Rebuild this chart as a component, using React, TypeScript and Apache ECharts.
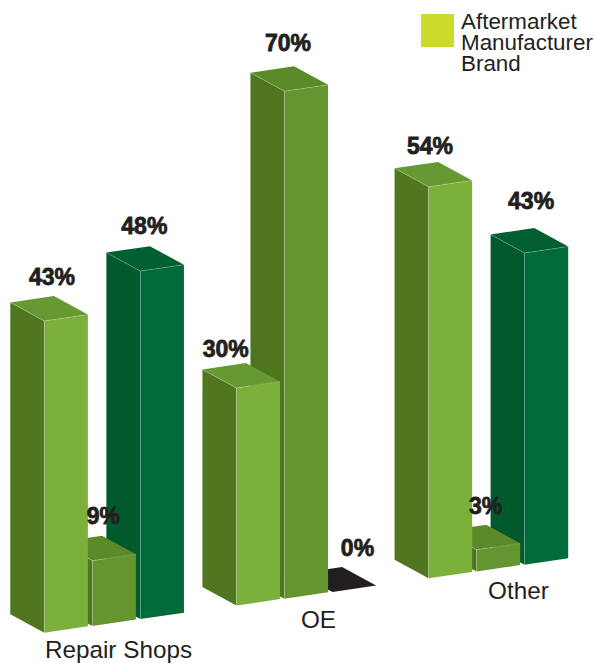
import React, { useEffect, useRef } from "react";
import * as echarts from "echarts";

const categories = ["Repair Shops", "OE", "Other"];
const legendLines = ["Aftermarket", "Manufacturer", "Brand"];
const aftermarket = [43, 30, 54];
const manufacturer = [9, 70, 3];
const brand = [48, 0, 43];

const WIDTH = 594;
const HEIGHT = 664;
const FONT = '"Liberation Sans", Arial, sans-serif';
const INK = "#231f20";

// Layout of the oblique projection
const SLOTS_PER_GROUP = 4;
const SLOT_RISE = 6.8;
const LEFT_DEPTH = [-34, -18.5];
const FRONT_SKEW = -6.4;
const FRONT_WIDTH = 43.6;

// Layout: label offsets from each bar's front top corner, by group
const labelNudge: Record<string, number[][]> = {
  Aftermarket: [[7.7, -44], [-10.7, -39], [1.5, -41]],
  Manufacturer: [[11, -45], [3.5, -48.5], [9, -44]],
  Brand: [[4, -45], [25, -44], [6.5, -52]],
};

const palette: Record<string, { front: string; top: string; left: string }> = {
  Aftermarket: { front: "#7bb03a", top: "#669932", left: "#50761f" },
  Manufacturer: { front: "#65952e", top: "#5b8b28", left: "#4e761f" },
  Brand: { front: "#006b3a", top: "#015f31", left: "#015a2d" },
};

function makeSeries(name: string, seriesIndex: number, values: number[]) {
  return {
    type: "custom",
    name,
    silent: true,
    clip: false,
    data: values.map((v, g) => [g * SLOTS_PER_GROUP + seriesIndex, v, g]),
    encode: { x: 0, y: 1 },
    renderItem: (_p: any, api: any) => {
      const slot = api.value(0);
      const value = api.value(1);
      const group = api.value(2);
      const base = api.coord([slot, 0]);
      const head = api.coord([slot, value]);
      const rise = SLOT_RISE * slot;
      const fb = [base[0], base[1] - rise];
      const ft = [head[0], head[1] - rise];
      const rb = [fb[0] + FRONT_WIDTH, fb[1] + FRONT_SKEW];
      const rt = [ft[0] + FRONT_WIDTH, ft[1] + FRONT_SKEW];
      const lb = [fb[0] + LEFT_DEPTH[0], fb[1] + LEFT_DEPTH[1]];
      const lt = [ft[0] + LEFT_DEPTH[0], ft[1] + LEFT_DEPTH[1]];
      const bk = [lt[0] + FRONT_WIDTH, lt[1] + FRONT_SKEW];
      const c = palette[name];
      const nudge = labelNudge[name][group];
      const children: any[] = [];
      if (value > 0) {
        children.push(
          { type: "polygon", shape: { points: [lt, ft, fb, lb] }, style: { fill: c.left } },
          { type: "polygon", shape: { points: [ft, rt, rb, fb] }, style: { fill: c.front } },
          { type: "polygon", shape: { points: [lt, bk, rt, ft] }, style: { fill: c.top } },
          {
            type: "polyline",
            shape: { points: [lt, ft, rt] },
            style: { fill: "none", stroke: "rgba(255,255,255,0.3)", lineWidth: 0.7 },
          },
          {
            type: "polyline",
            shape: { points: [ft, fb] },
            style: { fill: "none", stroke: "rgba(255,255,255,0.3)", lineWidth: 0.7 },
          },
        );
      } else {
        children.push({
          type: "polygon",
          shape: { points: [lt, bk, rt, ft] },
          style: { fill: INK },
        });
      }
      children.push({
        type: "text",
        z2: 100,
        style: {
          text: `${value}%`,
          x: ft[0] + nudge[0],
          y: ft[1] + nudge[1],
          align: "center",
          verticalAlign: "middle",
          fontFamily: FONT,
          fontSize: 23,
          fontWeight: "bold",
          fill: INK,
          stroke: INK,
          lineWidth: 0.8,
        },
      });
      return { type: "group", children };
    },
  };
}

export default function App() {
  const ref = useRef<HTMLDivElement>(null);
  useEffect(() => {
    const chart = echarts.init(ref.current!, undefined, { renderer: "svg" });
    chart.setOption({
      animation: false,
      backgroundColor: "#ffffff",
      grid: { left: 44.3, width: 480.3, top: 52.7, height: 580 },
      xAxis: { type: "value", min: 0, max: 10, show: false },
      yAxis: { type: "value", min: 0, max: 80, show: false },
      series: [
        makeSeries("Brand", 2, brand),
        makeSeries("Manufacturer", 1, manufacturer),
        makeSeries("Aftermarket", 0, aftermarket),
      ],
      graphic: [
        { type: "rect", shape: { x: 421, y: 14, width: 33, height: 33 }, style: { fill: "#cbdb2a" } },
        {
          type: "text",
          style: {
            text: legendLines.join("\n"),
            x: 461,
            y: 10.4,
            verticalAlign: "top",
            lineHeight: 21.2,
            fontFamily: FONT,
            fontSize: 22.4,
            fill: INK,
          },
        },
        ...categories.map((cat, i) => ({
          type: "text",
          style: {
            text: cat,
            x: 118.5 + i * 200,
            y: 649 - i * 29.5,
            align: "center",
            verticalAlign: "middle",
            fontFamily: FONT,
            fontSize: 24.3,
            fill: INK,
          },
        })),
      ],
    });
    return () => chart.dispose();
  }, []);
  return (
    <div
      ref={ref}
      style={{ position: "absolute", left: 0, top: 0, width: WIDTH, height: HEIGHT }}
    />
  );
}
